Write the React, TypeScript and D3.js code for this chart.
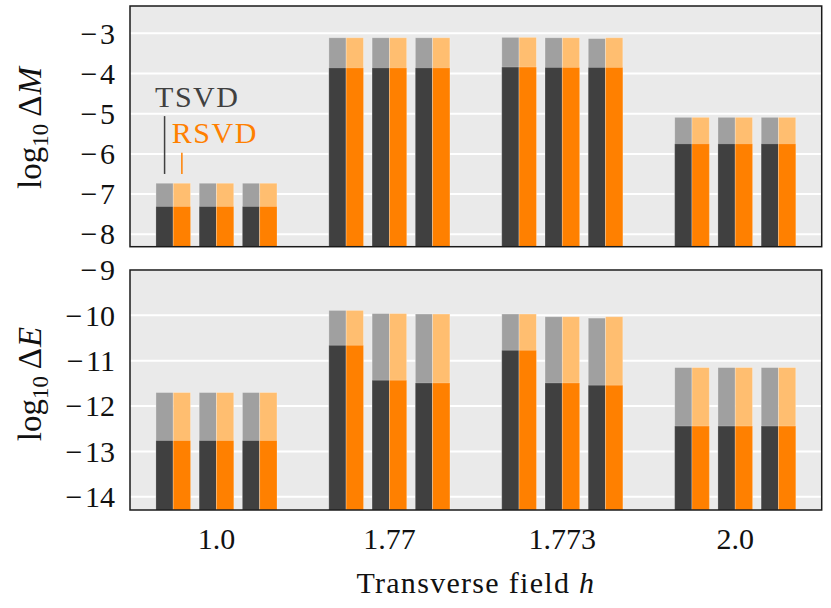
import React from "react";
import * as d3 from "d3";

// ---- data ----
const hLabels = ["1.0", "1.77", "1.773", "2.0"];
const pairOffsets = [-1, 0, 1];

// log10 ΔM: upper (light) and lower (dark) ends, per h, per run
const mTsvdHigh = [
  [-6.73, -6.73, -6.73],
  [-3.11, -3.11, -3.11],
  [-3.1, -3.11, -3.13],
  [-5.09, -5.09, -5.09],
];
const mRsvdHigh = [
  [-6.73, -6.73, -6.73],
  [-3.11, -3.11, -3.11],
  [-3.1, -3.11, -3.11],
  [-5.09, -5.09, -5.09],
];
const mTsvdLow = [
  [-7.31, -7.31, -7.31],
  [-3.86, -3.86, -3.86],
  [-3.84, -3.85, -3.85],
  [-5.75, -5.75, -5.75],
];
const mRsvdLow = [
  [-7.31, -7.31, -7.31],
  [-3.86, -3.86, -3.86],
  [-3.84, -3.85, -3.85],
  [-5.75, -5.75, -5.75],
];

// log10 ΔE
const eTsvdHigh = [
  [-11.7, -11.7, -11.7],
  [-9.89, -9.96, -9.97],
  [-9.97, -10.03, -10.06],
  [-11.15, -11.15, -11.15],
];
const eRsvdHigh = [
  [-11.7, -11.7, -11.7],
  [-9.89, -9.96, -9.97],
  [-9.97, -10.03, -10.03],
  [-11.15, -11.15, -11.15],
];
const eTsvdLow = [
  [-12.76, -12.76, -12.76],
  [-10.66, -11.43, -11.49],
  [-10.77, -11.49, -11.54],
  [-12.44, -12.44, -12.44],
];
const eRsvdLow = [
  [-12.76, -12.76, -12.76],
  [-10.66, -11.43, -11.49],
  [-10.77, -11.49, -11.54],
  [-12.44, -12.44, -12.44],
];

const mTicks = [-3, -4, -5, -6, -7, -8];
const eTicks = [-9, -10, -11, -12, -13, -14];
const mDomain = [-8.31, -2.32];
const eDomain = [-14.29, -9];

// ---- styles ----
const FONT = "Liberation Serif";
const FS = 30;
const BG = "#eaeaea";
const DARK = "#404040";
const DARK_LIGHT = "#a0a0a0";
const ORANGE = "#ff8000";
const ORANGE_LIGHT = "#ffbe70";
const FRAME = "#1a1a1a";
const INK = "#111111";

const W = 831;
const H = 608;
const left = 130;
const right = 821.7;
const barW = 0.1;
const pairStep = 0.25;

const x = d3.scaleLinear().domain([-0.5, 3.5]).range([left, right]);

type PanelProps = {
  top: number;
  bottom: number;
  labelY: number;
  domain: number[];
  ticks: number[];
  tsvdHigh: number[][];
  rsvdHigh: number[][];
  tsvdLow: number[][];
  rsvdLow: number[][];
  symbol: string;
  annotate?: boolean;
};

function Panel(p: PanelProps) {
  const y = d3.scaleLinear().domain(p.domain).range([p.bottom, p.top]);
  const base = p.domain[0];
  const bars: React.ReactNode[] = [];
  hLabels.forEach((_, i) => {
    pairOffsets.forEach((o, j) => {
      const c = i + o * pairStep;
      const specs = [
        { x0: c - barW, hi: p.tsvdHigh[i][j], lo: p.tsvdLow[i][j], cl: DARK_LIGHT, cd: DARK },
        { x0: c, hi: p.rsvdHigh[i][j], lo: p.rsvdLow[i][j], cl: ORANGE_LIGHT, cd: ORANGE },
      ];
      specs.forEach((s, k) => {
        const bx = x(s.x0);
        const bw = x(s.x0 + barW) - bx;
        bars.push(
          <rect key={`l${i}${j}${k}`} x={bx} y={y(s.hi)} width={bw} height={y(base) - y(s.hi)} fill={s.cl} stroke="rgba(255,255,255,0.35)" strokeWidth={0.8} />
        );
        bars.push(
          <rect key={`d${i}${j}${k}`} x={bx} y={y(s.lo)} width={bw} height={y(base) - y(s.lo)} fill={s.cd} stroke="rgba(255,255,255,0.25)" strokeWidth={0.8} />
        );
      });
    });
  });

  return (
    <g>
      <rect x={left} y={p.top} width={right - left} height={p.bottom - p.top} fill={BG} />
      {p.ticks.map((t) => (
        <line key={`g${t}`} x1={left} x2={right} y1={y(t)} y2={y(t)} stroke="#ffffff" strokeWidth={2} />
      ))}
      {bars}
      {p.annotate && (
        <g fontFamily={FONT} fontSize={FS} letterSpacing={1.5}>
          <text x={x(-0.355)} y={y(-4.84)} fill={DARK}>TSVD</text>
          <line x1={x(-0.3)} x2={x(-0.3)} y1={y(-5.06)} y2={y(-6.5)} stroke={DARK} strokeWidth={1.5} />
          <text x={x(-0.258)} y={y(-5.73)} fill={ORANGE}>RSVD</text>
          <line x1={x(-0.2)} x2={x(-0.2)} y1={y(-5.97)} y2={y(-6.5)} stroke={ORANGE} strokeWidth={1.5} />
        </g>
      )}
      <rect x={left} y={p.top} width={right - left} height={p.bottom - p.top} fill="none" stroke={FRAME} strokeWidth={1.5} />
      {p.ticks.map((t) => (
        <text key={`t${t}`} x={115} y={y(t)} dy="0.34em" textAnchor="end" fontFamily={FONT} fontSize={FS} fill={INK}>
          {"\u2212\u200A" + Math.abs(t)}
        </text>
      ))}
      <text
        transform={`translate(41,${p.labelY}) rotate(-90)`}
        textAnchor="middle"
        fontFamily={FONT}
        fontSize={33}
        fill={INK}
      >
        log
        <tspan fontSize={23} dy={7}>10</tspan>
        <tspan dy={-7} dx={7}>{"\u0394"}</tspan>
        <tspan fontStyle="italic" dx={1}>{p.symbol}</tspan>
      </text>
    </g>
  );
}

export default function App() {
  return (
    <svg width={W} height={H} style={{ position: "absolute", left: 0, top: 0, background: "#fff" }}>
      <Panel top={6} bottom={246.7} labelY={128} domain={mDomain} ticks={mTicks} tsvdHigh={mTsvdHigh} rsvdHigh={mRsvdHigh} tsvdLow={mTsvdLow} rsvdLow={mRsvdLow} symbol="M" annotate />
      <Panel top={270} bottom={510} labelY={384} domain={eDomain} ticks={eTicks} tsvdHigh={eTsvdHigh} rsvdHigh={eRsvdHigh} tsvdLow={eTsvdLow} rsvdLow={eRsvdLow} symbol="E" />
      {hLabels.map((l, i) => (
        <text key={l} x={x(i)} y={549} textAnchor="middle" fontFamily={FONT} fontSize={FS} fill={INK}>
          {l}
        </text>
      ))}
      <text x={(left + right) / 2} y={593} textAnchor="middle" fontFamily={FONT} fontSize={FS} letterSpacing={1.3} fill={INK}>
        Transverse field <tspan fontStyle="italic">h</tspan>
      </text>
    </svg>
  );
}
